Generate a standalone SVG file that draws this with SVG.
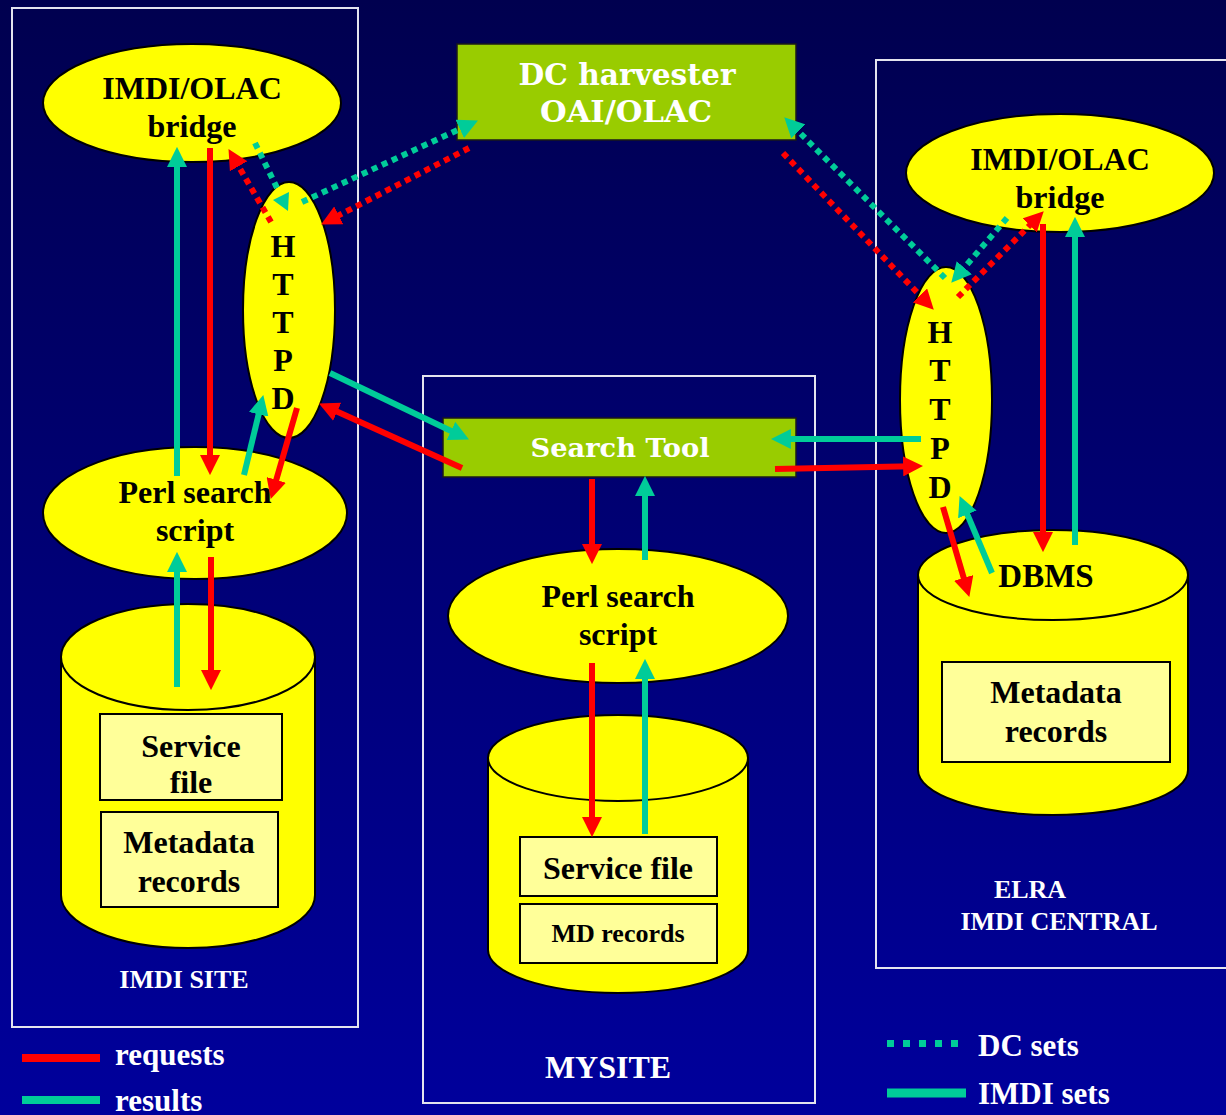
<svg xmlns="http://www.w3.org/2000/svg" width="1226" height="1115" viewBox="0 0 1226 1115">
  <defs>
    <linearGradient id="bg" x1="0" y1="0" x2="0" y2="1">
      <stop offset="0" stop-color="#00004F"/>
      <stop offset="1" stop-color="#00009C"/>
    </linearGradient>
    <marker id="headRed" markerUnits="userSpaceOnUse" markerWidth="20" markerHeight="20" viewBox="0 0 18 18" refX="8" refY="9" orient="auto">
      <path d="M0,0 L18,9 L0,18 z" fill="#FF0000"/>
    </marker>
    <marker id="headTeal" markerUnits="userSpaceOnUse" markerWidth="20" markerHeight="20" viewBox="0 0 18 18" refX="8" refY="9" orient="auto">
      <path d="M0,0 L18,9 L0,18 z" fill="#00CC99"/>
    </marker>
  </defs>
  <style>
    .frame { fill: none; stroke: #E4E4EE; stroke-width: 2; }
    .shape { fill: #FFFF00; stroke: #000; stroke-width: 2; }
    .inner { fill: #FFFF99; stroke: #000; stroke-width: 2; }
    .green { fill: #99CC00; stroke: #1a1a1a; stroke-width: 1.5; }
    .lbl { font-family: "Liberation Serif", "Times New Roman", serif; font-weight: bold; fill: #000; text-anchor: middle; }
    .wide { font-family: "DejaVu Serif", "Liberation Serif", serif; font-weight: bold; fill: #FFF; text-anchor: middle; }
    .white { font-family: "Liberation Serif", "Times New Roman", serif; font-weight: bold; fill: #FFF; }
    .req { fill: none; stroke: #FF0000; stroke-width: 6; marker-end: url(#headRed); }
    .res { fill: none; stroke: #00CC99; stroke-width: 6; marker-end: url(#headTeal); }
    .dotR { fill: none; stroke: #FF0000; stroke-width: 6; stroke-dasharray: 6 5; }
    .dotT { fill: none; stroke: #00CC99; stroke-width: 6; stroke-dasharray: 6 5; }
  </style>

  <rect x="0" y="0" width="1226" height="1115" fill="url(#bg)"/>

  <!-- site frames -->
  <g id="frames">
    <rect class="frame" x="12" y="8" width="346" height="1019"/>
    <rect class="frame" x="423" y="376" width="392" height="727"/>
    <rect class="frame" x="876" y="60" width="360" height="908"/>
  </g>

  <!-- IMDI SITE -->
  <g id="left-bridge">
    <ellipse class="shape" cx="192" cy="103" rx="149" ry="59"/>
    <text class="lbl" x="192" y="99" font-size="32">IMDI/OLAC</text>
    <text class="lbl" x="192" y="137" font-size="32">bridge</text>
  </g>
  <g id="left-httpd">
    <ellipse class="shape" cx="289" cy="310" rx="46" ry="128"/>
    <text class="lbl" x="283" y="257" font-size="32">H</text>
    <text class="lbl" x="283" y="295" font-size="32">T</text>
    <text class="lbl" x="283" y="333" font-size="32">T</text>
    <text class="lbl" x="283" y="371" font-size="32">P</text>
    <text class="lbl" x="283" y="409" font-size="32">D</text>
  </g>
  <g id="left-perl">
    <ellipse class="shape" cx="195" cy="513" rx="152" ry="66"/>
    <text class="lbl" x="195" y="503" font-size="32">Perl search</text>
    <text class="lbl" x="195" y="541" font-size="32">script</text>
  </g>
  <g id="left-store">
    <path class="shape" d="M61,657 L61,895 A127,53 0 0 0 315,895 L315,657 z"/>
    <ellipse class="shape" cx="188" cy="657" rx="127" ry="53"/>
    <rect class="inner" x="100" y="714" width="182" height="86"/>
    <text class="lbl" x="191" y="757" font-size="32">Service</text>
    <text class="lbl" x="191" y="793" font-size="32">file</text>
    <rect class="inner" x="101" y="812" width="177" height="95"/>
    <text class="lbl" x="189" y="853" font-size="32">Metadata</text>
    <text class="lbl" x="189" y="892" font-size="32">records</text>
  </g>
  <text class="white" x="184" y="988" font-size="26" text-anchor="middle">IMDI SITE</text>

  <!-- harvester -->
  <g id="harvester">
    <rect class="green" x="457" y="44" width="339" height="96"/>
    <text class="wide" x="627" y="85" font-size="29" textLength="217" lengthAdjust="spacingAndGlyphs">DC harvester</text>
    <text class="wide" x="626" y="122" font-size="29" textLength="172" lengthAdjust="spacingAndGlyphs">OAI/OLAC</text>
  </g>

  <!-- MYSITE -->
  <g id="search-tool">
    <rect class="green" x="443" y="418" width="353" height="59"/>
    <text class="wide" x="620" y="457" font-size="26" textLength="179" lengthAdjust="spacingAndGlyphs">Search Tool</text>
  </g>
  <g id="mid-perl">
    <ellipse class="shape" cx="618" cy="616" rx="170" ry="67"/>
    <text class="lbl" x="618" y="607" font-size="32">Perl search</text>
    <text class="lbl" x="618" y="645" font-size="32">script</text>
  </g>
  <g id="mid-store">
    <path class="shape" d="M488,758 L488,950 A130,43 0 0 0 748,950 L748,758 z"/>
    <ellipse class="shape" cx="618" cy="758" rx="130" ry="43"/>
    <rect class="inner" x="520" y="837" width="197" height="59"/>
    <text class="lbl" x="618" y="879" font-size="32">Service file</text>
    <rect class="inner" x="520" y="904" width="197" height="59"/>
    <text class="lbl" x="618" y="942" font-size="26">MD records</text>
  </g>
  <text class="white" x="608" y="1078" font-size="32" text-anchor="middle">MYSITE</text>

  <!-- ELRA IMDI CENTRAL -->
  <g id="right-bridge">
    <ellipse class="shape" cx="1060" cy="173" rx="154" ry="59"/>
    <text class="lbl" x="1060" y="170" font-size="32">IMDI/OLAC</text>
    <text class="lbl" x="1060" y="208" font-size="32">bridge</text>
  </g>
  <g id="right-httpd">
    <ellipse class="shape" cx="946" cy="400" rx="46" ry="133"/>
    <text class="lbl" x="940" y="343" font-size="32">H</text>
    <text class="lbl" x="940" y="381" font-size="32">T</text>
    <text class="lbl" x="940" y="420" font-size="32">T</text>
    <text class="lbl" x="940" y="459" font-size="32">P</text>
    <text class="lbl" x="940" y="498" font-size="32">D</text>
  </g>
  <g id="right-dbms">
    <path class="shape" d="M918,575 L918,770 A135,45 0 0 0 1188,770 L1188,575 z"/>
    <ellipse class="shape" cx="1053" cy="575" rx="135" ry="45"/>
    <text class="lbl" x="1046" y="587" font-size="33">DBMS</text>
    <rect class="inner" x="942" y="662" width="228" height="100"/>
    <text class="lbl" x="1056" y="703" font-size="32">Metadata</text>
    <text class="lbl" x="1056" y="742" font-size="32">records</text>
  </g>
  <text class="white" x="1030" y="898" font-size="26" text-anchor="middle">ELRA</text>
  <text class="white" x="1059" y="930" font-size="26" text-anchor="middle">IMDI CENTRAL</text>

  <!-- connectors -->
  <g id="connectors">
    <!-- requests -->
    <path class="req" d="M210,148 L210,464"/>
    <path class="req" d="M297,408 L273.8,488.4"/>
    <path class="req" d="M211,557 L211,679"/>
    <path class="req" d="M462,468 L329.1,408.1"/>
    <path class="req" d="M592,479 L592,553"/>
    <path class="req" d="M592,663 L592,826"/>
    <path class="req" d="M775,469 L912,466.2"/>
    <path class="req" d="M1043,224 L1043,541"/>
    <path class="req" d="M943,507 L966.2,586.4"/>
    <!-- results -->
    <path class="res" d="M177,476 L177,158"/>
    <path class="res" d="M244,475 L260.7,405.7"/>
    <path class="res" d="M177,687 L177,563"/>
    <path class="res" d="M330,373 L459,434.7"/>
    <path class="res" d="M645,560 L645,487"/>
    <path class="res" d="M645,834 L645,670"/>
    <path class="res" d="M921,439 L782,439"/>
    <path class="res" d="M1075,545 L1075,228"/>
    <path class="res" d="M992,573 L963.9,506.2"/>
    <!-- DC sets, left -->
    <path class="dotT" d="M255,143 L279,192"/>
    <path class="dotT" d="M302,202 L467.9,125.2" marker-end="url(#headTeal)"/>
    <polygon points="273,200 289,192 288,211" fill="#00CC99"/>
    <path class="dotR" d="M469,148 L330.9,219.4" marker-end="url(#headRed)"/>
    <path class="dotR" d="M271,222 L234.1,158.6" marker-end="url(#headRed)"/>
    <!-- DC sets, right -->
    <path class="dotT" d="M945,278 L792.1,125.1" marker-end="url(#headTeal)"/>
    <path class="dotT" d="M1007,218 L958.5,274.4" marker-end="url(#headTeal)"/>
    <path class="dotR" d="M783,153 L926.1,301.8" marker-end="url(#headRed)"/>
    <path class="dotR" d="M958,297 L1035.9,219.1" marker-end="url(#headRed)"/>
  </g>

  <!-- legend -->
  <g id="legend">
    <line x1="22" y1="1058" x2="100" y2="1058" stroke="#FF0000" stroke-width="8"/>
    <text class="white" x="115" y="1065" font-size="31">requests</text>
    <line x1="22" y1="1100" x2="100" y2="1100" stroke="#00CC99" stroke-width="8"/>
    <text class="white" x="115" y="1111" font-size="31">results</text>
    <line x1="887" y1="1043.5" x2="962" y2="1043.5" stroke="#00CC99" stroke-width="7" stroke-dasharray="7 9"/>
    <text class="white" x="978" y="1056" font-size="31">DC sets</text>
    <line x1="887" y1="1093" x2="966" y2="1093" stroke="#00CC99" stroke-width="9"/>
    <text class="white" x="978" y="1104" font-size="31">IMDI sets</text>
  </g>
</svg>
